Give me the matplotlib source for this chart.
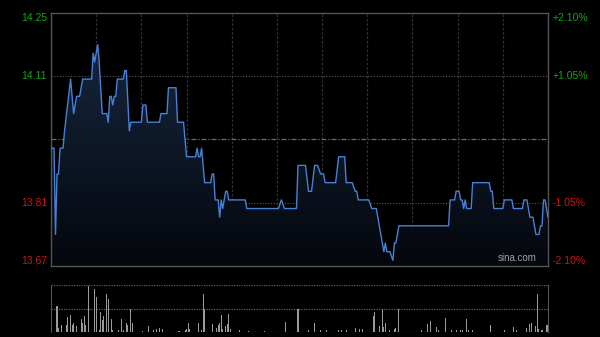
import matplotlib
matplotlib.use("Agg")
import matplotlib.pyplot as plt
import numpy as np
from matplotlib.patches import Polygon
from matplotlib.colors import LinearSegmentedColormap

# ---------------- data ----------------
prev_close = 13.96
pct_range = 0.021

price_min = [0, 2, 3, 4, 5, 6, 8, 9, 13, 15, 17, 19, 20, 21, 27, 28, 29, 30, 31, 32, 34,
             37, 38, 39, 40, 41, 42, 43, 44, 48, 49, 50, 52, 53, 60, 61, 63, 64, 72, 73, 77,
             78, 83, 84, 88, 90, 96, 97, 98, 99, 100, 102, 106, 107, 108, 109, 111, 112, 113,
             114, 115, 116, 117, 118, 129, 130, 151, 153, 155, 163, 164, 169, 171, 173, 175,
             177, 179, 181, 182, 189, 191, 195, 196, 200, 202, 203, 204, 211, 213, 216, 218,
             221, 222, 223, 225, 227, 228, 229, 231, 264, 265, 268, 269, 271, 272, 273, 274,
             275, 276, 279, 280, 291, 292, 293, 294, 300, 301, 306, 307, 313, 314, 316, 317,
             318, 320, 321, 322, 324, 325, 326, 327, 328, 330]
price_val = [13.94, 13.94, 13.74, 13.88, 13.88, 13.94, 13.94, 13.98, 14.10, 14.02, 14.06, 14.06,
             14.08, 14.10, 14.10, 14.16, 14.14, 14.16, 14.18, 14.14, 14.02,
             14.02, 14.00, 14.06, 14.06, 14.04, 14.06, 14.06, 14.10, 14.10, 14.12, 14.12, 13.98,
             14.00, 14.00, 14.04, 14.04, 14.00, 14.00, 14.02, 14.02,
             14.08, 14.08, 14.00, 14.00, 13.92, 13.92, 13.94, 13.92, 13.92, 13.94, 13.86, 13.86,
             13.88, 13.88, 13.82, 13.82, 13.78, 13.82,
             13.80, 13.82, 13.84, 13.84, 13.82, 13.82, 13.80, 13.80, 13.82, 13.80, 13.80, 13.90,
             13.90, 13.84, 13.84, 13.90,
             13.90, 13.88, 13.88, 13.86, 13.86, 13.92, 13.92, 13.86, 13.86, 13.84, 13.84, 13.82,
             13.82, 13.80, 13.80, 13.76,
             13.70, 13.72, 13.70, 13.70, 13.68, 13.72, 13.72, 13.76, 13.76, 13.82, 13.82, 13.84,
             13.84, 13.82, 13.82, 13.80,
             13.82, 13.80, 13.80, 13.86, 13.86, 13.84, 13.84, 13.80, 13.80, 13.82, 13.82, 13.80,
             13.80, 13.82, 13.82, 13.80,
             13.78, 13.78, 13.76, 13.74, 13.74, 13.76, 13.76, 13.82, 13.82, 13.78]

vol_min = [0, 4, 5, 7, 10, 11, 13, 14, 15, 17, 20, 21, 22, 23, 25, 29, 30, 32, 33, 34, 35, 37,
           38, 40, 41, 45, 47, 48, 50, 51, 53, 54, 61, 65, 68, 70, 72, 74, 85, 89, 90, 91, 92,
           98, 100, 101, 102, 107, 110, 111, 112, 113, 114, 116, 117, 118, 119, 125, 131, 142,
           156, 164, 171, 175, 179, 183, 191, 193, 196, 202, 205, 207, 214, 215, 218, 220, 221,
           222, 225, 228, 229, 231, 246, 250, 252, 256, 257, 262, 266, 269, 272, 273, 276, 277,
           280, 292, 301, 307, 309, 316, 318, 319, 322, 323, 324, 326, 329, 330]
vol_val = [7, 77, 13, 20, 20, 45, 52, 20, 28, 17, 40, 27, 48, 20, 138, 128, 105, 7, 60, 35, 48,
           113, 97, 40, 7, 5, 40, 7, 28, 20, 68, 27, 3, 17, 5, 9, 12, 10, 4, 5, 10, 27, 9,
           27, 7, 113, 68, 23, 13, 20, 27, 50, 9, 17, 23, 55, 10, 5, 3, 3,
           30, 68, 5, 27, 7, 7, 7, 5, 7, 13, 10, 10, 47, 60, 17, 68, 15,
           27, 7, 9, 13, 68, 5, 23, 33, 15, 5, 43, 7, 5, 7, 7, 40, 7,
           5, 20, 7, 15, 7, 12, 25, 27, 17, 113, 10, 7, 20, 22]

left_labels = ["14.25", "14.11", "13.81", "13.67"]
right_labels = ["+2.10%", "+1.05%", "-1.05%", "-2.10%"]
watermark = "sina.com"

# ---------------- figure ----------------
W, H = 600, 337
fig = plt.figure(figsize=(W / 100, H / 100), dpi=100, facecolor="black")
font = "Liberation Sans"

ax = fig.add_axes([51 / W, 1 - 266 / H, 497 / W, 253 / H])
axv = fig.add_axes([51 / W, 1 - 332 / H, 497 / W, 47 / H])
for a in (ax, axv):
    a.set_facecolor("black")
    a.set_xticks([])
    a.set_yticks([])

delta = prev_close * pct_range
ymin, ymax = prev_close - delta, prev_close + delta
ax.set_xlim(0, 330)
ax.set_ylim(ymin, ymax)
for s in ax.spines.values():
    s.set_color("#555555")
    s.set_linewidth(1.0)

# grid
for m in range(30, 330, 30):
    ax.axvline(m, color="#333333", lw=0.9, ls=(0, (2, 1.5)), zorder=0.5)
ax.axhline(prev_close + delta / 2, color="#555555", lw=0.8, ls=(0, (1, 1.5)), zorder=0.5)
ax.axhline(prev_close - delta / 2, color="#555555", lw=0.8, ls=(0, (1, 1.5)), zorder=0.5)
ax.axhline(prev_close, color="#6a6a6a", lw=0.9, ls=(0, (4, 1.5, 1, 1.5)), zorder=0.5)

# gradient fill under line
xs = np.array(price_min, dtype=float)
ys = np.array(price_val, dtype=float)
verts = [(xs[0], ymin)] + list(zip(xs, ys)) + [(xs[-1], ymin)]
poly = Polygon(verts, closed=True, facecolor="none", edgecolor="none")
ax.add_patch(poly)
cmap = LinearSegmentedColormap.from_list("g", ["#04070c", "#182a46"])
grad = np.linspace(0, 1, 256).reshape(-1, 1)
im = ax.imshow(grad, extent=[0, 330, ymin, ymax], origin="lower", aspect="auto",
               cmap=cmap, zorder=1)
im.set_clip_path(poly)

ax.plot(xs, ys, color="#4a80d4", lw=1.0, zorder=3, solid_joinstyle="round")

# labels
green, red = "#17a317", "#d01515"
lab_y = [ymax, prev_close + delta / 2, prev_close - delta / 2, ymin]
lab_va = ["top", "center", "center", "bottom"]
lab_c = [green, green, red, red]
tr = ax.get_yaxis_transform()
for t, y, va, c in zip(left_labels, lab_y, lab_va, lab_c):
    ax.text(-0.008, y, t, transform=tr, ha="right", va=va, color=c,
            fontsize=7.5, family=font)
for t, y, va, c in zip(right_labels, lab_y, lab_va, lab_c):
    ax.text(1.01, y, t, transform=tr, ha="left", va=va, color=c,
            fontsize=7.5, family=font)

ax.text(0.978, 0.01, watermark, transform=ax.transAxes, ha="right", va="bottom",
        color="#a0a0a0", fontsize=7, family=font, zorder=4)

# volume panel
axv.set_xlim(0, 330)
axv.set_ylim(0, 140)
axv.bar(vol_min, vol_val, width=0.7, color="#9a9a9a", linewidth=0)
for k in ("left", "right"):
    axv.spines[k].set_color("#555555")
for k in ("top", "bottom"):
    axv.spines[k].set_visible(False)
for y in (0.5, 70, 139.5):
    axv.axhline(y, color="#606060", lw=0.9, ls=(0, (1, 1)), zorder=0.5)

fig.savefig("out.png", dpi=100, facecolor="black")
